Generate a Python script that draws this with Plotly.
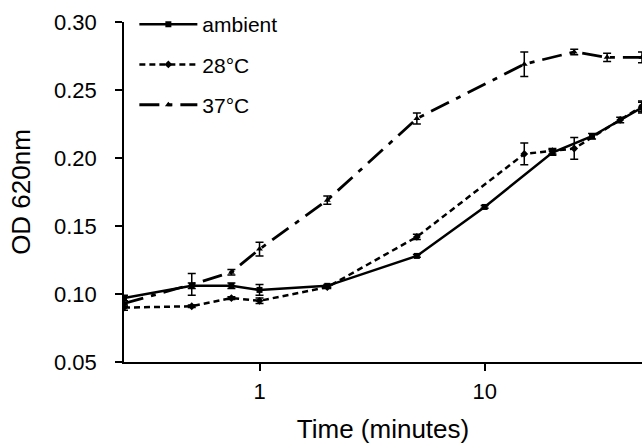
import plotly.graph_objects as go

# Data
t_amb = [0.25, 0.5, 0.75, 1, 2, 5, 10, 20, 30, 50]
od_amb = [0.097, 0.106, 0.106, 0.103, 0.106, 0.128, 0.164, 0.204, 0.216, 0.237]
err_amb = [0.002, 0.002, 0.002, 0.004, 0.001, 0.001, 0.001, 0.002, 0.002, 0.004]

t_28 = [0.25, 0.5, 0.75, 1, 2, 5, 15, 20, 25, 40, 50]
od_28 = [0.090, 0.091, 0.097, 0.095, 0.105, 0.142, 0.203, 0.205, 0.207, 0.228, 0.238]
err_28 = [0.002, 0.001, 0.001, 0.002, 0.001, 0.002, 0.008, 0.002, 0.008, 0.002, 0.004]

t_37 = [0.25, 0.5, 0.75, 1, 2, 5, 15, 25, 35, 50]
od_37 = [0.093, 0.107, 0.116, 0.133, 0.169, 0.229, 0.269, 0.278, 0.274, 0.274]
err_37 = [0.002, 0.008, 0.002, 0.005, 0.003, 0.004, 0.009, 0.002, 0.003, 0.004]

names = ["ambient", "28°C", "37°C"]
y_ticks = [0.05, 0.10, 0.15, 0.20, 0.25, 0.30]
y_tick_text = ["0.05", "0.10", "0.15", "0.20", "0.25", "0.30"]
x_ticks = [1, 10]
x_tick_text = ["1", "10"]

font = "Liberation Sans, Arial, sans-serif"
fig = go.Figure()

specs = [
    (t_amb, od_amb, err_amb, names[0], "solid", "square", 2.5),
    (t_28, od_28, err_28, names[1], "6px,4px", "diamond", 2.5),
    (t_37, od_37, err_37, names[2], "20px,8px,5px,8px", "triangle-up", 2.8),
]
for i, (x, y, e, n, dash, sym, w) in enumerate(specs):
    fig.add_trace(go.Scatter(
        x=x, y=y, name=n, mode="lines+markers",
        line=dict(color="black", width=w, dash=dash),
        marker=dict(symbol=sym, size=6, color="black"),
        error_y=dict(type="data", array=e, color="black", thickness=1.5, width=4),
        legendgroup=f"g{i}",
    ))

fig.update_layout(
    width=644, height=444,
    margin=dict(l=124, r=2, t=22, b=82),
    paper_bgcolor="white", plot_bgcolor="white",
    font=dict(family=font, size=22, color="black"),
    showlegend=True,
    legend=dict(x=0.02, y=1.053, xanchor="left", yanchor="top",
                font=dict(size=21), tracegroupgap=10,
                bgcolor="rgba(0,0,0,0)", itemwidth=58),
    xaxis=dict(type="log", range=[-0.602, 1.699],
               tickvals=x_ticks, ticktext=x_tick_text,
               ticks="outside", ticklen=7, tickwidth=1.5, tickcolor="black",
               showline=True, linecolor="black", linewidth=1.5,
               showgrid=False, zeroline=False, automargin=False,
               ticklabelstandoff=2,
               title=dict(text="Time (minutes)", standoff=20)),
    yaxis=dict(range=[0.05, 0.30], tickvals=y_ticks, ticktext=y_tick_text,
               ticks="outside", ticklen=7, tickwidth=1.5, tickcolor="black",
               showline=True, linecolor="black", linewidth=1.5,
               showgrid=False, zeroline=False, automargin=False,
               ticklabelstandoff=14,
               title=dict(text="OD 620nm", standoff=16)),
)

# remove the browser's default 8px page margin so the figure fills the window
fig.write_html("out.html", config={"displayModeBar": False},
               post_script="document.body.style.margin='0px';")
